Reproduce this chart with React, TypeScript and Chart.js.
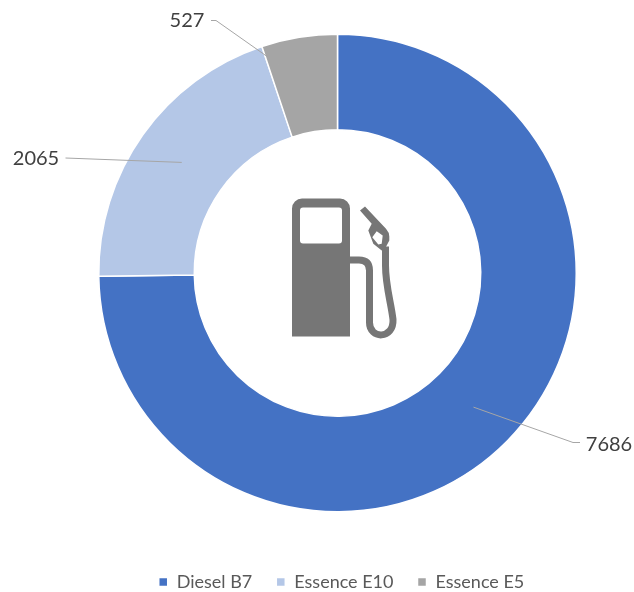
import React, { useEffect, useRef } from "react";
import { Chart, registerables } from "chart.js";

Chart.register(...registerables);

const categories = ["Diesel B7", "Essence E10", "Essence E5"];
const values = [7686, 2065, 527];
const colors = ["#4472C4", "#B4C7E7", "#A5A5A5"];

const FONT = "Lato, 'Open Sans', sans-serif";

// Leader line elbow / end and label centre, relative to the doughnut centre
const leaderLayout = [
  { via: [[235.5, 169.5]], end: [242.5, 169.5], label: [271.5, 171.5] },
  { via: [], end: [-272, -115], label: [-301.5, -114.5] },
  { via: [[-121.5, -252.5]], end: [-126.5, -252.5], label: [-150.5, -252.5] },
];

const leaderPlugin = {
  id: "leaders",
  afterLayout(chart: any) {
    const lg = chart.legend;
    if (lg) {
      const dx = 4;
      const dy = 36;
      lg.left += dx;
      lg.right += dx;
      lg.top += dy;
      lg.bottom += dy;
    }
  },
  afterDatasetsDraw(chart: any) {
    const { ctx } = chart;
    const arcs = chart.getDatasetMeta(0).data;
    ctx.save();
    arcs.forEach((arc: any, i: number) => {
      const p = arc.getProps(["x", "y", "startAngle", "endAngle", "innerRadius", "outerRadius"], true);
      const mid = (p.startAngle + p.endAngle) / 2;
      const r = (p.innerRadius + p.outerRadius) / 2;
      const layout = leaderLayout[i];
      ctx.beginPath();
      ctx.moveTo(p.x + Math.cos(mid) * r, p.y + Math.sin(mid) * r);
      layout.via.forEach((v: number[]) => ctx.lineTo(p.x + v[0], p.y + v[1]));
      ctx.lineTo(p.x + layout.end[0], p.y + layout.end[1]);
      ctx.strokeStyle = "#A6A6A6";
      ctx.lineWidth = 1;
      ctx.stroke();
      ctx.fillStyle = "#404040";
      ctx.font = `20px ${FONT}`;
      ctx.textAlign = "center";
      ctx.textBaseline = "middle";
      ctx.fillText(String(values[i]), p.x + layout.label[0], p.y + layout.label[1]);
    });

    // Fuel pump icon, centred on the doughnut
    const a = arcs[0].getProps(["x", "y"], true);
    ctx.translate(a.x - 337.5, a.y - 272.5);
    ctx.fillStyle = "#767676";
    ctx.strokeStyle = "#767676";
    const body = new Path2D();
    body.moveTo(292, 336);
    body.lineTo(292, 208);
    body.arcTo(292, 198, 302, 198, 10);
    body.lineTo(340, 198);
    body.arcTo(350, 198, 350, 208, 10);
    body.lineTo(350, 336);
    body.closePath();
    body.moveTo(303, 207);
    body.arcTo(300, 207, 300, 210, 3);
    body.lineTo(300, 240);
    body.arcTo(300, 243, 303, 243, 3);
    body.lineTo(339, 243);
    body.arcTo(342, 243, 342, 240, 3);
    body.lineTo(342, 210);
    body.arcTo(342, 207, 339, 207, 3);
    body.closePath();
    ctx.fill(body, "evenodd");

    ctx.lineWidth = 7;
    ctx.lineCap = "butt";
    ctx.lineJoin = "round";
    ctx.beginPath();
    ctx.moveTo(349, 259.5);
    ctx.lineTo(359, 259.5);
    ctx.quadraticCurveTo(369.5, 259.5, 369.5, 270);
    ctx.lineTo(369.5, 322);
    ctx.bezierCurveTo(369.5, 339, 394, 339, 393, 319);
    ctx.bezierCurveTo(391, 302, 385.5, 285, 385.5, 265);
    ctx.lineTo(385.5, 246);
    ctx.stroke();

    const nozzle = new Path2D();
    nozzle.moveTo(360, 210);
    nozzle.lineTo(365, 206);
    nozzle.lineTo(386, 228.3);
    nozzle.quadraticCurveTo(389.3, 232, 389.3, 236);
    nozzle.lineTo(389.3, 240);
    nozzle.lineTo(385, 248.3);
    nozzle.lineTo(381.7, 250);
    nozzle.lineTo(373.3, 243.3);
    nozzle.lineTo(368.3, 230);
    nozzle.lineTo(371.7, 223.3);
    nozzle.closePath();
    nozzle.moveTo(376.7, 230.7);
    nozzle.lineTo(372.3, 236.7);
    nozzle.lineTo(378.3, 244);
    nozzle.lineTo(381.7, 243.3);
    nozzle.lineTo(382.7, 235);
    nozzle.closePath();
    ctx.fill(nozzle, "evenodd");
    ctx.restore();
  },
};

export default function App() {
  const ref = useRef<HTMLCanvasElement>(null);
  useEffect(() => {
    const chart = new Chart(ref.current!, {
      type: "doughnut",
      data: {
        labels: categories,
        datasets: [
          {
            data: values,
            backgroundColor: colors,
            borderColor: "#FFFFFF",
            borderWidth: 1.5,
            hoverOffset: 0,
          },
        ],
      },
      options: {
        responsive: false,
        animation: false,
        cutout: "60%",
        layout: { padding: { top: 33, left: 98, right: 57, bottom: 27 } },
        plugins: {
          tooltip: { enabled: false },
          legend: {
            display: true,
            position: "bottom",
            labels: {
              boxWidth: 9,
              boxHeight: 9,
              padding: 24,
              color: "#595959",
              font: { family: FONT, size: 18 },
            },
          },
        },
      },
      plugins: [leaderPlugin],
    });
    return () => chart.destroy();
  }, []);
  return (
    <div style={{ position: "absolute", left: 0, top: 0, width: 634, height: 592, background: "#fff" }}>
      <canvas ref={ref} width={634} height={592} style={{ display: "block" }} />
    </div>
  );
}
